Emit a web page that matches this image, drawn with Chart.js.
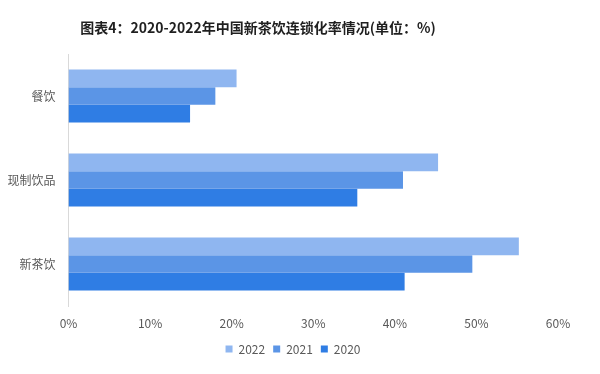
<!DOCTYPE html>
<html>
<head>
<meta charset="utf-8">
<script src="https://cdn.jsdelivr.net/npm/chart.js@4/dist/chart.umd.min.js"></script>
<style>
  html, body { margin: 0; padding: 0; background: #fff; }
  #wrap { width: 600px; height: 374px; position: relative; }
</style>
</head>
<body>
<div id="wrap"><canvas id="barChart"></canvas></div>
<script>
const categories = ['餐饮', '现制饮品', '新茶饮'];
const years = ['2022', '2021', '2020'];
const rate2022 = [20.6, 45.3, 55.2];
const rate2021 = [18.0, 41.0, 49.5];
const rate2020 = [14.9, 35.4, 41.2];
const xTicks = [0, 10, 20, 30, 40, 50, 60];

const titleText = '图表4：2020-2022年中国新茶饮连锁化率情况(单位：%)';
const font = '"Noto Sans CJK SC", "Microsoft YaHei", sans-serif';

// title sits left of centre in the original, so draw it by hand
const titlePlugin = {
    id: 'manualTitle',
    afterLayout(chart) {
        // legend in the original is centred a bit right of the canvas middle
        chart.legend.left += 14;
        chart.legend.right += 14;
    },
    afterDraw(chart) {
        const c = chart.ctx;
        c.save();
        c.font = 'bold 14px ' + font;
        c.fillStyle = '#1f1f1f';
        c.textAlign = 'center';
        c.textBaseline = 'middle';
        c.fillText(titleText, 258, 28);
        c.restore();
    }
};

const ctx = document.getElementById('barChart').getContext('2d');

new Chart(ctx, {
    type: 'bar',
    data: {
        labels: categories,
        datasets: [
            { label: years[0], data: rate2022, backgroundColor: '#8fb6f0' },
            { label: years[1], data: rate2021, backgroundColor: '#5b95e6' },
            { label: years[2], data: rate2020, backgroundColor: '#2f7de4' }
        ]
    },
    options: {
        indexAxis: 'y',
        responsive: true,
        maintainAspectRatio: false,
        animation: false,
        datasets: {
            bar: { barPercentage: 1, categoryPercentage: 0.63 }
        },
        layout: { padding: { top: 54, right: 42, bottom: 9, left: 0 } },
        scales: {
            x: {
                min: 0,
                max: 60,
                afterBuildTicks: (s) => { s.ticks = xTicks.map(v => ({ value: v })); },
                grid: { display: false, drawTicks: false },
                border: { display: false },
                ticks: {
                    padding: 10,
                    color: '#595959',
                    font: { family: font, size: 12 },
                    callback: (v) => v + '%'
                },
                afterFit: (s) => { s.height = 29; }
            },
            y: {
                grid: { display: false, drawTicks: false },
                border: { display: true, color: '#d9d9d9', width: 1 },
                ticks: {
                    padding: 13,
                    color: '#595959',
                    font: { family: font, size: 12 }
                },
                afterFit: (s) => { s.width = 68.5; }
            }
        },
        plugins: {
            title: { display: false },
            tooltip: { enabled: false },
            legend: {
                position: 'bottom',
                labels: {
                    boxWidth: 7,
                    boxHeight: 7,
                    padding: 8,
                    color: '#595959',
                    font: { family: font, size: 12 }
                }
            }
        }
    },
    plugins: [titlePlugin]
});
</script>
</body>
</html>
